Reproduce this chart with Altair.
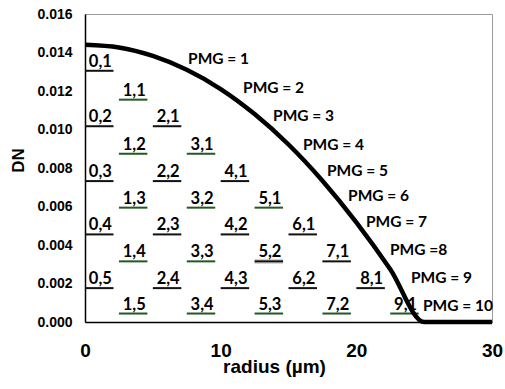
import altair as alt
import pandas as pd

# Dimensionless frequency curve DN versus radius
radius = [0, 2.5, 5, 7.5, 10, 12.5, 15, 17.5, 20, 22.5, 25, 30]
dn = [0.0144, 0.01426, 0.01382, 0.01310, 0.01210, 0.01080, 0.00922, 0.00734, 0.00518, 0.00274, 0.0, 0.0]

# Mode labels (l,m) with their underline positions
mode_labels = ["0,1", "1,1", "0,2", "2,1", "1,2", "3,1", "0,3", "2,2", "4,1", "1,3",
               "3,2", "5,1", "0,4", "2,3", "4,2", "6,1", "1,4", "3,3", "5,2", "7,1",
               "0,5", "2,4", "4,3", "6,2", "8,1", "1,5", "3,4", "5,3", "7,2", "9,1"]
mode_x0 = [0, 2.5, 0, 5, 2.5, 7.5, 0, 5, 10, 2.5,
           7.5, 12.5, 0, 5, 10, 15, 2.5, 7.5, 12.5, 17.5,
           0, 5, 10, 15, 20, 2.5, 7.5, 12.5, 17.5, 22.5]
mode_x1 = [2.1, 4.6, 2.1, 7.1, 4.6, 9.6, 2.1, 7.1, 12.1, 4.6,
           9.6, 14.6, 2.1, 7.1, 12.1, 17.1, 4.6, 9.6, 14.6, 19.6,
           2.1, 7.1, 12.1, 17.1, 22.1, 4.6, 9.6, 14.6, 19.6, 24.6]
mode_y = [0.01305, 0.01155, 0.01017, 0.01017, 0.00874, 0.00874, 0.00732, 0.00732, 0.00732, 0.00594,
          0.00594, 0.00594, 0.00455, 0.00455, 0.00455, 0.00455, 0.00315, 0.00315, 0.00315, 0.00315,
          0.00176, 0.00176, 0.00176, 0.00176, 0.00176, 0.00044, 0.00044, 0.00044, 0.00044, 0.00044]
mode_kind = ["black", "green", "black", "black", "green", "green", "black", "black", "black", "green",
             "green", "green", "black", "black", "black", "black", "green", "green", "black", "black",
             "black", "black", "black", "black", "black", "green", "green", "green", "green", "green"]

# PMG band labels
pmg_text = ["PMG = 1", "PMG = 2", "PMG = 3", "PMG = 4", "PMG = 5",
            "PMG = 6", "PMG = 7", "PMG =8", "PMG = 9", "PMG = 10"]
pmg_x = [7.6, 11.65, 13.86, 16.07, 17.84, 19.39, 20.71, 22.48, 24.03, 24.91]
pmg_y = [0.01368, 0.01213, 0.01072, 0.00917, 0.00787, 0.00657, 0.00517, 0.00372, 0.00227, 0.00081]

# axis tick values
x_ticks = [0, 10, 20, 30]
y_ticks = [0.0, 0.002, 0.004, 0.006, 0.008, 0.010, 0.012, 0.014, 0.016]

curve_df = pd.DataFrame({"radius": radius, "dn": dn})
modes_df = pd.DataFrame({"label": mode_labels, "x0": mode_x0, "x1": mode_x1,
                         "y": mode_y, "kind": mode_kind})
modes_df["xc"] = (modes_df["x0"] + modes_df["x1"]) / 2 + 0.08
pmg_df = pd.DataFrame({"text": pmg_text, "x": pmg_x, "y": pmg_y})

xscale = alt.Scale(domain=[0, 30], nice=False)
yscale = alt.Scale(domain=[0, 0.016], nice=False)
colscale = alt.Scale(domain=["black", "green"], range=["#111111", "#1f5a1f"])

label_font = "Lato"

x_axis = alt.Axis(values=x_ticks, format="d", grid=False, ticks=False, tickSize=0,
                  labelFont="Liberation Sans", labelFontSize=19, labelFontWeight="bold",
                  labelColor="black", labelPadding=19, labelOverlap=False, labelFlush=False,
                  title="radius (µm)", titleFont="Liberation Sans", titleFontSize=19,
                  titleFontWeight="bold", titleColor="black",
                  titleX=189, titleY=50, titleBaseline="alphabetic",
                  domainColor="black", domainWidth=1.5)
y_axis = alt.Axis(values=y_ticks, tickCount=9,
                  format=".3f", grid=False, ticks=False, tickSize=0,
                  labelFont="Liberation Sans", labelFontSize=14, labelFontWeight="bold",
                  labelColor="black", labelPadding=13, labelOverlap=False, labelFlush=False,
                  title="DN", titleFont="Liberation Sans", titleFontSize=17,
                  titleFontWeight="bold", titleColor="black",
                  titleX=-62, titleY=146, titleBaseline="alphabetic",
                  domainColor="black", domainWidth=1.5)

# faint shadow under the 5,2 underline
shadow = alt.Chart(modes_df[modes_df["label"] == "5,2"]).mark_rule(
    color="#9a9a9a", strokeWidth=5, opacity=0.45
).encode(
    x=alt.X("x0:Q", scale=xscale, axis=x_axis),
    x2="x1:Q",
    y=alt.Y("y:Q", scale=yscale, axis=y_axis),
)

underlines = alt.Chart(modes_df).mark_rule(strokeWidth=2).encode(
    x=alt.X("x0:Q", scale=xscale, axis=x_axis),
    x2="x1:Q",
    y=alt.Y("y:Q", scale=yscale, axis=y_axis),
    color=alt.Color("kind:N", scale=colscale, legend=None),
)

mode_text = alt.Chart(modes_df).mark_text(
    font=label_font, fontSize=16.5, fontWeight="bold", color="black",
    baseline="bottom", align="center", dy=-1
).encode(
    x=alt.X("xc:Q", scale=xscale, axis=x_axis),
    y=alt.Y("y:Q", scale=yscale, axis=y_axis),
    text="label:N",
)

curve = alt.Chart(curve_df).mark_line(
    color="black", strokeWidth=4.5, interpolate="monotone"
).encode(
    x=alt.X("radius:Q", scale=xscale, axis=x_axis),
    y=alt.Y("dn:Q", scale=yscale, axis=y_axis),
)

pmg = alt.Chart(pmg_df).mark_text(
    font=label_font, fontSize=15.5, fontWeight="bold", color="black",
    align="left", baseline="middle"
).encode(
    x=alt.X("x:Q", scale=xscale, axis=x_axis),
    y=alt.Y("y:Q", scale=yscale, axis=y_axis),
    text="text:N",
)

chart = alt.layer(shadow, underlines, mode_text, curve, pmg).properties(
    width=407, height=308,
    autosize=alt.AutoSizeParams(type="none"),
    padding={"left": 85, "top": 14, "right": 13, "bottom": 67},
    background="white",
).configure_view(stroke="#9a9a9a", strokeWidth=1)

chart.save("out.html", embed_options={"renderer": "svg", "actions": False})
